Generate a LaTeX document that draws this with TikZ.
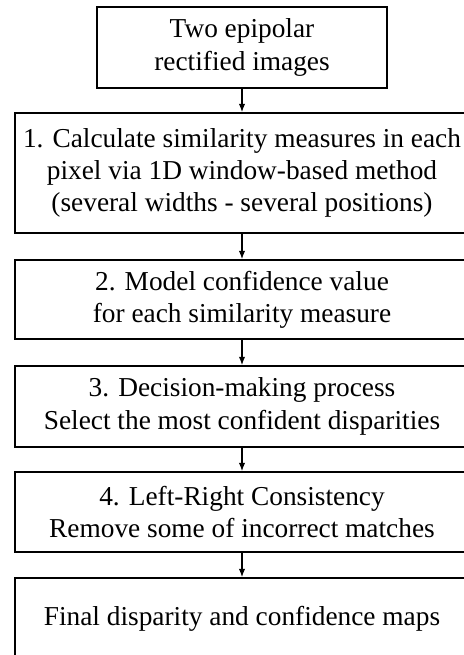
\documentclass[tikz,border=0pt]{standalone}
\usepackage{fontspec}
\setmainfont{Liberation Serif}
\usetikzlibrary{arrows.meta}
\begin{document}
\begin{tikzpicture}[x=0.375pt,y=-0.375pt,
  box/.style={draw,line width=0.5pt,inner sep=0pt,align=center,font=\fontsize{10.25}{12.1}\selectfont},
  wide/.style={box,minimum width=170.25pt},
  flow/.style={line width=0.5pt,-{Latex[length=3.2pt,width=2.4pt]}}]
\useasboundingbox (0,0) rectangle (464,655);
\node[box,minimum width=108.75pt,minimum height=30.4pt] (a) at (242,47.5) {Two epipolar\\rectified images};
\node[wide,minimum height=45pt] (b) at (242,173) {1. Calculate similarity measures in each\\pixel via 1D window-based method\\(several widths - several positions)};
\node[wide,minimum height=29.6pt] (c) at (242,299.5) {2. Model confidence value\\for each similarity measure};
\node[wide,minimum height=30.4pt] (d) at (242,406.5) {3. Decision-making process\\Select the most confident disparities};
\node[wide,minimum height=30pt] (e) at (242,512) {4. Left-Right Consistency\\Remove some of incorrect matches};
\node[wide,minimum height=30.75pt] (f) at (242,619) {Final disparity and confidence maps};
\draw[flow] (a) -- (b);
\draw[flow] (b) -- (c);
\draw[flow] (c) -- (d);
\draw[flow] (d) -- (e);
\draw[flow] (e) -- (f);
\end{tikzpicture}
\end{document}
